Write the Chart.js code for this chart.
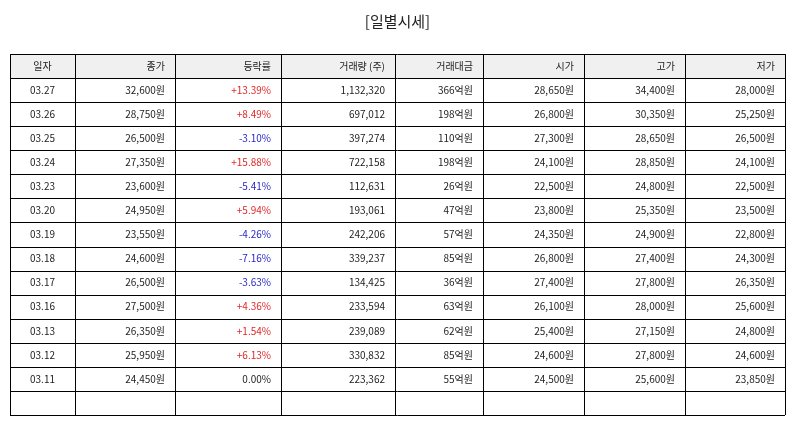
<!DOCTYPE html>
<html><head><meta charset="utf-8">
<script src="https://cdn.jsdelivr.net/npm/chart.js@4/dist/chart.umd.min.js"></script>
<style>html,body{margin:0;background:#fff}#w{width:794px;height:425px}</style>
</head><body><div id="w"><canvas id="c"></canvas></div>
<script>
const headers = ['일자','종가','등락률','거래량 (주)','거래대금','시가','고가','저가'];
const dates = ['03.27','03.26','03.25','03.24','03.23','03.20','03.19','03.18','03.17','03.16','03.13','03.12','03.11'];
const closes = [32600,28750,26500,27350,23600,24950,23550,24600,26500,27500,26350,25950,24450];
const changes = [13.39,8.49,-3.10,15.88,-5.41,5.94,-4.26,-7.16,-3.63,4.36,1.54,6.13,0.00];
const volumes = [1132320,697012,397274,722158,112631,193061,242206,339237,134425,233594,239089,330832,223362];
const amounts = [366,198,110,198,26,47,57,85,36,63,62,85,55];
const opens = [28650,26800,27300,24100,22500,23800,24350,26800,27400,26100,25400,24600,24500];
const highs = [34400,30350,28650,28850,24800,25350,24900,27400,27800,28000,27150,27800,25600];
const lows = [28000,25250,26500,24100,22500,23500,22800,24300,26350,25600,24800,24600,23850];
const colEdges = [0,65,165,271,385,473,574,675,775];
const nRows = dates.length + 2;
const fmt = n => n.toLocaleString('en-US');
const FONT = '"Noto Sans CJK KR","Noto Sans",sans-serif';

const tablePlugin = {
  id:'table',
  afterDraw(chart){
    const ctx = chart.ctx, xs = chart.scales.x, ys = chart.scales.y;
    const X = v => xs.getPixelForValue(v), Y = v => ys.getPixelForValue(v);
    ctx.save();
    ctx.fillStyle = '#f0f0f0';
    ctx.fillRect(X(0), Y(0), X(775)-X(0), Y(1)-Y(0));
    ctx.font = '10px ' + FONT;
    ctx.textBaseline = 'middle';
    const rows = [headers.map(h=>({t:h,c:'#222'}))];
    dates.forEach((d,i)=>{
      const ch = changes[i];
      rows.push([
        {t:d,c:'#222'},
        {t:fmt(closes[i])+'원',c:'#222'},
        {t:(ch>0?'+':'')+ch.toFixed(2)+'%',c: ch>0?'#e02828':(ch<0?'#2828c8':'#222')},
        {t:fmt(volumes[i]),c:'#222'},
        {t:amounts[i]+'억원',c:'#222'},
        {t:fmt(opens[i])+'원',c:'#222'},
        {t:fmt(highs[i])+'원',c:'#222'},
        {t:fmt(lows[i])+'원',c:'#222'}
      ]);
    });
    rows.forEach((r,ri)=>{
      const yc = (Y(ri)+Y(ri+1))/2;
      r.forEach((cell,ci)=>{
        ctx.fillStyle = cell.c;
        if(ci===0){ctx.textAlign='center';ctx.fillText(cell.t,(X(colEdges[0])+X(colEdges[1]))/2,yc);}
        else {ctx.textAlign='right';ctx.fillText(cell.t,X(colEdges[ci+1])-10,yc);}
      });
    });
    ctx.strokeStyle = '#000'; ctx.lineWidth = 1;
    ctx.beginPath();
    for(let r=0;r<=nRows;r++){const y=Math.round(Y(r))+0.5;ctx.moveTo(X(0),y);ctx.lineTo(X(775),y);}
    colEdges.forEach(e=>{const x=Math.round(X(e))+0.5;ctx.moveTo(x,Y(0));ctx.lineTo(x,Y(nRows));});
    ctx.stroke();
    ctx.restore();
  }
};

new Chart(document.getElementById('c'),{
  type:'scatter',
  data:{datasets:[{data:[]}]},
  options:{
    responsive:true,maintainAspectRatio:false,animation:false,
    layout:{padding:{left:10,right:9,top:12,bottom:10}},
    plugins:{legend:{display:false},tooltip:{enabled:false},
      title:{display:true,text:'[일별시세]',color:'#222',font:{family:FONT,size:15,weight:'normal'},padding:{top:0,bottom:24}}},
    scales:{
      x:{type:'linear',min:0,max:775,display:false},
      y:{type:'linear',min:0,max:nRows,reverse:true,display:false}
    }
  },
  plugins:[tablePlugin]
});
</script></body></html>
